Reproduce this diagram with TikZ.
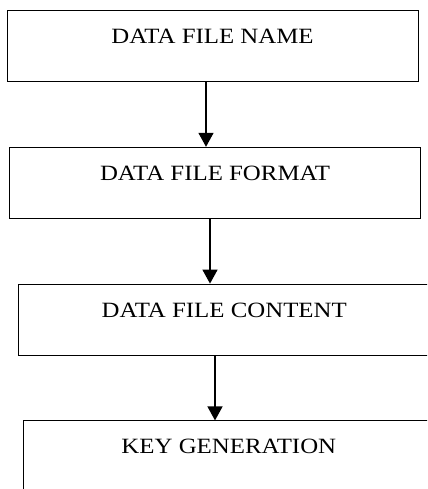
\documentclass[tikz,border=0pt]{standalone}
\usepackage{fontspec}
\setmainfont{Liberation Serif}[FakeStretch=1.14]
\usetikzlibrary{
  arrows.meta,
  positioning,  % Function "of" (e.g. [below=of x])
}
\def\myndist{65bp}
\tikzset{
  x=1bp,
  y=-1bp,
  my box/.style={
    draw,
    line width=0.8bp,
    inner sep=0mm,
    minimum width=411bp,
    text height=33bp,
    text depth=38bp,
    font=\fontsize{21.8bp}{26bp}\selectfont
  },
  my arrow/.style={
    line width=1.5bp,
    -{Triangle[length=14bp,width=15bp]}
  },
  node distance=\myndist
}

\begin{document}
\begin{tikzpicture}
\useasboundingbox (0,0) rectangle (427,489);
\clip (0,0) rectangle (427,489);
% File name
\node[my box,anchor=north] (name) at (212.5,10) {DATA FILE NAME};
% File format
\node[my box,xshift=2.5bp]  (format)  [below=of name]    {DATA FILE FORMAT};
\draw[my arrow] ([xshift=-6.5bp]name.south) -- ([xshift=-6.5bp]name.south |- format.north);
% File content
\node[my box,xshift=9.2bp]  (content) [below=of format]  {DATA FILE CONTENT};
\draw[my arrow] ([xshift=-5bp]format.south) -- ([xshift=-5bp]format.south |- content.north);
% Key generation
\node[my box,xshift=4.6bp]  (key)     [below=of content] {KEY GENERATION};
\draw[my arrow] ([xshift=-9.2bp]content.south) -- ([xshift=-9.2bp]content.south |- key.north);
\end{tikzpicture}
\end{document}
